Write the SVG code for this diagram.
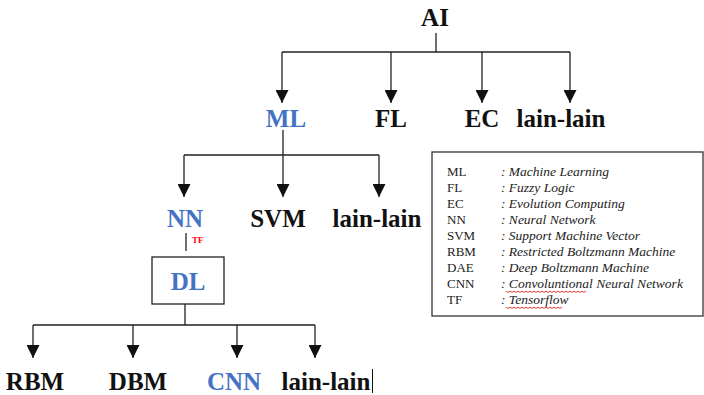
<svg xmlns="http://www.w3.org/2000/svg" width="704" height="395" viewBox="0 0 704 395" font-family="'Liberation Serif', 'DejaVu Serif', serif">
  <style>
    text { font-family: "Liberation Serif", "DejaVu Serif", serif; }
    .lbl { font-weight: bold; font-size: 25px; text-anchor: middle; fill: #111; }
    .blue { fill: #4472C4; }
    .wire { fill: none; stroke: #222; stroke-width: 1.3; }
    .box { fill: #fff; stroke: #222; stroke-width: 1.3; }
    .abbr { font-size: 13px; fill: #222; }
    .desc { font-size: 13.5px; font-style: italic; fill: #222; }
    .tag { font-weight: bold; font-size: 9px; fill: #ff0000; }
    .squig { fill: none; stroke: #e02020; stroke-width: 0.9; }
  </style>
  <defs>
    <marker id="arrow" viewBox="0 0 13 13" refX="13" refY="6.5" markerWidth="13" markerHeight="13" markerUnits="userSpaceOnUse" orient="auto">
      <path d="M0,0 L13,6.5 L0,13 Z" fill="#111"/>
    </marker>
  </defs>

  <!-- connectors -->
  <g id="connectors">
    <!-- AI branch -->
    <path class="wire" d="M436,33 V52 M282,52 H570"/>
    <path class="wire" d="M282,52 V103" marker-end="url(#arrow)"/>
    <path class="wire" d="M391,52 V103" marker-end="url(#arrow)"/>
    <path class="wire" d="M482,52 V103" marker-end="url(#arrow)"/>
    <path class="wire" d="M570,52 V103" marker-end="url(#arrow)"/>
    <!-- ML branch -->
    <path class="wire" d="M283,130 V155 M184,155 H379"/>
    <path class="wire" d="M184,155 V197" marker-end="url(#arrow)"/>
    <path class="wire" d="M283,155 V197" marker-end="url(#arrow)"/>
    <path class="wire" d="M379,155 V197" marker-end="url(#arrow)"/>
    <!-- NN to DL -->
    <path class="wire" d="M186,233 V251"/>
    <!-- DL branch -->
    <path class="wire" d="M185,304 V325 M33,325 H315"/>
    <path class="wire" d="M33,325 V358" marker-end="url(#arrow)"/>
    <path class="wire" d="M133,325 V358" marker-end="url(#arrow)"/>
    <path class="wire" d="M237,325 V358" marker-end="url(#arrow)"/>
    <path class="wire" d="M315,325 V358" marker-end="url(#arrow)"/>
  </g>

  <!-- nodes -->
  <g id="node-ai"><text class="lbl" x="435" y="26">AI</text></g>
  <g id="node-ml"><text class="lbl blue" x="286" y="127">ML</text></g>
  <g id="node-fl"><text class="lbl" x="391" y="127">FL</text></g>
  <g id="node-ec"><text class="lbl" x="482" y="127">EC</text></g>
  <g id="node-other1"><text class="lbl" x="561" y="127">lain-lain</text></g>
  <g id="node-nn"><text class="lbl blue" x="185" y="227">NN</text></g>
  <g id="node-svm"><text class="lbl" x="278" y="227">SVM</text></g>
  <g id="node-other2"><text class="lbl" x="377" y="227">lain-lain</text></g>
  <g id="tag-tf"><text class="tag" x="192" y="243">TF</text></g>
  <g id="node-dl">
    <rect class="box" x="152" y="257" width="72" height="47"/>
    <text class="lbl blue" x="188" y="290">DL</text>
  </g>
  <g id="node-rbm"><text class="lbl" x="35" y="390">RBM</text></g>
  <g id="node-dbm"><text class="lbl" x="138" y="390">DBM</text></g>
  <g id="node-cnn"><text class="lbl blue" x="234" y="390">CNN</text></g>
  <g id="node-other3">
    <text class="lbl" x="326" y="390">lain-lain</text>
    <line x1="372.5" y1="369" x2="372.5" y2="393" stroke="#111" stroke-width="1"/>
  </g>

  <!-- legend -->
  <g id="legend">
    <rect x="432" y="152" width="271" height="164" fill="#fff" stroke="#333" stroke-width="1.3"/>
    <g class="abbr">
      <text class="abbr" x="447" y="176">ML</text>
      <text class="abbr" x="447" y="192">FL</text>
      <text class="abbr" x="447" y="208">EC</text>
      <text class="abbr" x="447" y="224">NN</text>
      <text class="abbr" x="447" y="240">SVM</text>
      <text class="abbr" x="447" y="256">RBM</text>
      <text class="abbr" x="447" y="272">DAE</text>
      <text class="abbr" x="447" y="288">CNN</text>
      <text class="abbr" x="447" y="304">TF</text>
    </g>
    <g>
      <text class="desc" x="501" y="176">: Machine Learning</text>
      <text class="desc" x="501" y="192">: Fuzzy Logic</text>
      <text class="desc" x="501" y="208">: Evolution Computing</text>
      <text class="desc" x="501" y="224">: Neural Network</text>
      <text class="desc" x="501" y="240">: Support Machine Vector</text>
      <text class="desc" x="501" y="256">: Restricted Boltzmann Machine</text>
      <text class="desc" x="501" y="272">: Deep Boltzmann Machine</text>
      <text class="desc" x="501" y="288">: Convoluntional Neural Network</text>
      <text class="desc" x="501" y="304">: Tensorflow</text>
    </g>
    <path class="squig" d="M506,291 l2,1.5 l2,-1.5 l2,1.5 l2,-1.5 l2,1.5 l2,-1.5 l2,1.5 l2,-1.5 l2,1.5 l2,-1.5 l2,1.5 l2,-1.5 l2,1.5 l2,-1.5 l2,1.5 l2,-1.5 l2,1.5 l2,-1.5 l2,1.5 l2,-1.5 l2,1.5 l2,-1.5 l2,1.5 l2,-1.5 l2,1.5 l2,-1.5 l2,1.5 l2,-1.5 l2,1.5 l2,-1.5 l2,1.5 l2,-1.5 l2,1.5 l2,-1.5 l2,1.5 l2,-1.5 l2,1.5 l2,-1.5 l2,1.5 l2,-1.5"/>
    <path class="squig" d="M506,307 l2,1.5 l2,-1.5 l2,1.5 l2,-1.5 l2,1.5 l2,-1.5 l2,1.5 l2,-1.5 l2,1.5 l2,-1.5 l2,1.5 l2,-1.5 l2,1.5 l2,-1.5 l2,1.5 l2,-1.5 l2,1.5 l2,-1.5 l2,1.5 l2,-1.5 l2,1.5 l2,-1.5 l2,1.5 l2,-1.5 l2,1.5 l2,-1.5 l2,1.5 l2,-1.5"/>
  </g>
</svg>
